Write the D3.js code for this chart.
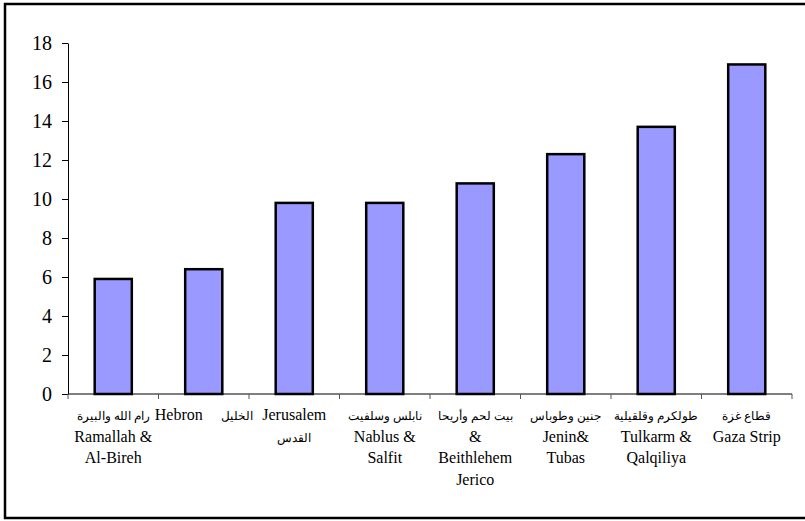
<!DOCTYPE html>
<html><head><meta charset="utf-8">
<script src="https://cdn.jsdelivr.net/npm/d3@7/dist/d3.min.js"></script>
<style>body{margin:0;background:#fff}svg{display:block}</style>
</head><body>
<svg id="c" width="805" height="521"></svg>
<script>
const categories = ["Ramallah", "Hebron", "Jerusalem", "Nablus", "Bethlehem", "Jenin", "Tulkarm", "Gaza"];
const values = [5.9, 6.4, 9.8, 9.8, 10.8, 12.3, 13.7, 16.9];
const labelLines = [
  ["رام الله والبيرة", "Ramallah &", "Al-Bireh"],
  ["Hebron|الخليل"],
  ["Jerusalem", "القدس"],
  ["نابلس وسلفيت", "Nablus &", "Salfit"],
  ["بيت لحم وأريحا", "&", "Beithlehem", "Jerico"],
  ["جنين وطوباس", "Jenin&", "Tubas"],
  ["طولكرم وقلقيلية", "Tulkarm &", "Qalqiliya"],
  ["قطاع غزة", "Gaza Strip"]
];
const yTicks = [0, 2, 4, 6, 8, 10, 12, 14, 16, 18];

const SERIF = "Liberation Serif";
const svg = d3.select("#c");
svg.append("rect").attr("x", 5).attr("y", 4).attr("width", 820).attr("height", 514)
  .attr("fill", "#fff").attr("stroke", "#000").attr("stroke-width", 2.5);

const pLeft = 68, pRight = 792, pTop = 43, pBottom = 394;
const x = d3.scaleBand().domain(categories).range([pLeft, pRight]).paddingInner(0.59).paddingOuter(0.295);
const y = d3.scaleLinear().domain([0, 18]).range([pBottom, pTop]);

// bars
svg.selectAll("rect.bar").data(values).join("rect").attr("class", "bar")
  .attr("x", (d, i) => x(categories[i]))
  .attr("y", d => y(d))
  .attr("width", x.bandwidth())
  .attr("height", d => y(0) - y(d))
  .attr("fill", "#9999FF").attr("stroke", "#000").attr("stroke-width", 2.5);

// y axis
const yAxis = d3.axisLeft(y).tickValues(yTicks).tickSize(6).tickPadding(10).tickSizeOuter(0);
const gy = svg.append("g").attr("transform", `translate(${pLeft},0)`).call(yAxis)
  .attr("font-family", SERIF).attr("font-size", 20);
gy.select(".domain").attr("stroke", "#000").attr("stroke-width", 1);
gy.selectAll(".tick line").attr("stroke", "#000");
gy.selectAll(".tick text").attr("fill", "#000");

// x axis line with ticks at band boundaries
const boundaries = categories.map(c => x(c) - x.step() * x.paddingInner() / 2);
boundaries.push(pRight);
svg.append("line").attr("x1", pLeft).attr("x2", pRight).attr("y1", pBottom).attr("y2", pBottom)
  .attr("stroke", "#000").attr("stroke-width", 1.2);
svg.selectAll("line.xt").data(boundaries).join("line").attr("class", "xt")
  .attr("x1", d => d).attr("x2", d => d).attr("y1", pBottom).attr("y2", pBottom + 5)
  .attr("stroke", "#555").attr("stroke-width", 1);

// category labels
const gl = svg.append("g").attr("font-family", SERIF).attr("fill", "#000");
const isArabic = s => /[\u0600-\u06FF]/.test(s);
labelLines.forEach((lines, i) => {
  const cx = x(categories[i]) + x.bandwidth() / 2;
  lines.forEach((ln, j) => {
    const t = gl.append("text").attr("x", cx).attr("y", 420 + j * 21.5).attr("text-anchor", "middle");
    ln.split("|").forEach((seg, k) => {
      t.append("tspan").attr("dx", k > 0 ? 18 : null)
        .attr("font-size", isArabic(seg) ? 12 : 16)
        .text(seg);
    });
  });
});
</script>
</body></html>
